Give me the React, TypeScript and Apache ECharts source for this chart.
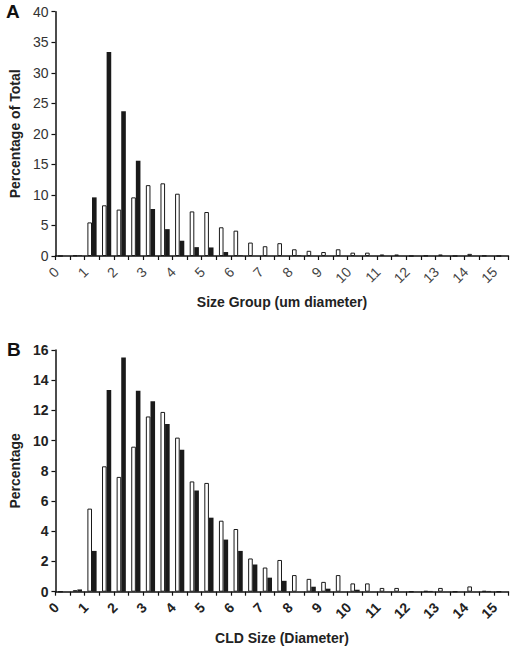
import React, { useEffect, useRef } from "react";
import * as echarts from "echarts";

const sizeGroups = [
  "0", "0.5", "1", "1.5", "2", "2.5", "3", "3.5", "4", "4.5", "5", "5.5", "6", "6.5", "7", "7.5",
  "8", "8.5", "9", "9.5", "10", "10.5", "11", "11.5", "12", "12.5", "13", "13.5", "14", "14.5", "15",
];

// white (open) bars — same distribution appears in both panels
const openValues = [
  0, 0.1, 5.5, 8.3, 7.6, 9.6, 11.6, 11.9, 10.2, 7.3, 7.2, 4.7, 4.15, 2.2, 1.6, 2.1,
  1.1, 0.85, 0.65, 1.1, 0.55, 0.55, 0.25, 0.25, 0, 0.05, 0.25, 0, 0.35, 0.05, 0,
];

// black bars, panel A
const filledA = [
  0, 0.1, 9.6, 33.4, 23.7, 15.6, 7.7, 4.4, 2.5, 1.45, 1.4, 0.65, 0.1, 0, 0, 0,
  0.1, 0, 0, 0, 0, 0, 0, 0, 0, 0, 0, 0, 0, 0, 0,
];

// black bars, panel B
const filledB = [
  0, 0.15, 2.7, 13.35, 15.5, 13.3, 12.6, 11.1, 9.4, 6.7, 4.9, 3.45, 2.7, 1.8, 0.93, 0.72,
  0, 0.33, 0.2, 0, 0.13, 0, 0, 0, 0, 0.05, 0, 0, 0, 0.05, 0,
];

const yTitleA = "Percentage of Total";
const xTitleA = "Size Group (um diameter)";
const yTitleB = "Percentage";
const xTitleB = "CLD Size (Diameter)";

const FONT = "'Liberation Sans', Arial, Helvetica, sans-serif";
const AXIS = "#111";

function xAxis(gridIndex: number, name: string, bold: boolean) {
  return {
    type: "category",
    gridIndex,
    data: sizeGroups,
    boundaryGap: true,
    name,
    nameLocation: "middle",
    nameGap: 39,
    nameTextStyle: { fontFamily: FONT, fontSize: 14, fontWeight: "bold", color: "#222" },
    axisLine: { lineStyle: { color: AXIS, width: 1.5 } },
    axisTick: { show: true, interval: 0, length: 4, inside: false, lineStyle: { color: AXIS, width: 1.2 } },
    axisLabel: {
      interval: 1,
      rotate: 45,
      margin: 7,
      formatter: (v: string) => v + "{s|}",
      rich: { s: { width: 9 } },
      fontFamily: FONT,
      fontSize: 14,
      fontWeight: bold ? "bold" : "normal",
      color: bold ? "#222" : "#444",
    },
    splitLine: { show: false },
  };
}

function yAxis(gridIndex: number, name: string, max: number, interval: number, bold: boolean) {
  return {
    type: "value",
    gridIndex,
    min: 0,
    max,
    interval,
    name,
    nameLocation: "middle",
    nameGap: 31,
    nameRotate: 90,
    nameTextStyle: { fontFamily: FONT, fontSize: 14, fontWeight: "bold", color: "#222" },
    axisLine: { show: true, lineStyle: { color: AXIS, width: 1.5 } },
    axisTick: { show: true, length: 4, inside: false, lineStyle: { color: AXIS, width: 1.2 } },
    axisLabel: {
      margin: 7,
      fontFamily: FONT,
      fontSize: 14,
      fontWeight: bold ? "bold" : "normal",
      color: bold ? "#222" : "#333",
    },
    splitLine: { show: false },
  };
}

function bars(xi: number, values: number[], filled: boolean) {
  return {
    type: "bar",
    xAxisIndex: xi,
    yAxisIndex: xi,
    data: values,
    barGap: "0%",
    barCategoryGap: "37%",
    itemStyle: filled
      ? { color: "#1a1a1a" }
      : { color: "#ffffff", borderColor: "#1a1a1a", borderWidth: 1 },
    silent: true,
  };
}

export default function App() {
  const ref = useRef<HTMLDivElement>(null);
  useEffect(() => {
    if (!ref.current) return;
    const chart = echarts.init(ref.current, null, { renderer: "svg" });
    chart.setOption({
      animation: false,
      backgroundColor: "#ffffff",
      grid: [
        { left: 52, right: 6.5, top: 11.7, height: 244.3 },
        { left: 52, right: 6.5, top: 350, height: 241.7 },
      ],
      xAxis: [xAxis(0, xTitleA, false), xAxis(1, xTitleB, true)],
      yAxis: [yAxis(0, yTitleA, 40, 5, false), yAxis(1, yTitleB, 16, 2, true)],
      series: [
        bars(0, openValues, false),
        bars(0, filledA, true),
        bars(1, openValues, false),
        bars(1, filledB, true),
      ],
      graphic: [
        {
          type: "text",
          left: 6,
          top: 2,
          style: { text: "A", fontFamily: FONT, fontSize: 19, fontWeight: "bold", fill: "#111" },
        },
        {
          type: "text",
          left: 7,
          top: 340,
          style: { text: "B", fontFamily: FONT, fontSize: 19, fontWeight: "bold", fill: "#111" },
        },
      ],
    });
    return () => chart.dispose();
  }, []);
  return (
    <div
      ref={ref}
      style={{ position: "fixed", left: 0, top: 0, width: 515, height: 655, background: "#fff" }}
    />
  );
}
